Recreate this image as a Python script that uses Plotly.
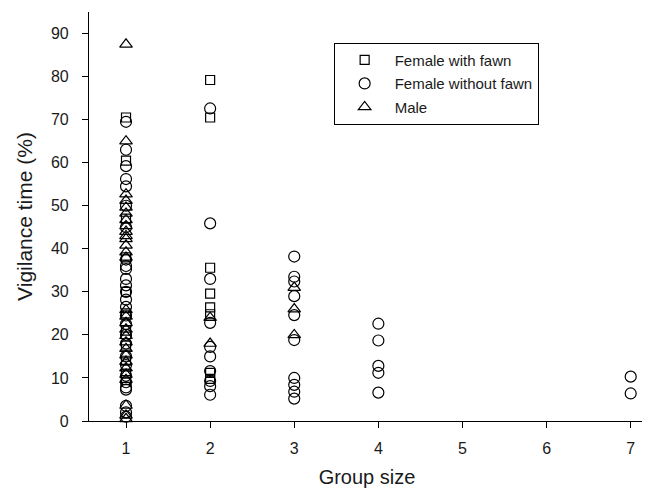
import plotly.graph_objects as go

# Female with fawn (squares)
fwf_x = [1]*11 + [2]*8
fwf_y = [70.5, 60.5, 47.0, 38.0, 30.0, 25.0, 21.0, 17.5, 14.0, 11.0, 9.5,
         79.2, 70.5, 35.6, 29.6, 26.4, 24.8, 11.2, 9.8]

# Female without fawn (circles)
fwo_x = [1]*28 + [2]*10 + [3]*10 + [4]*5 + [7]*2
fwo_y = [69.5, 63.0, 59.2, 56.2, 54.5, 50.0, 45.0, 37.5, 36.0, 35.3, 33.0, 31.5, 30.0, 28.2,
         26.5, 24.5, 22.5, 20.0, 18.0, 15.0, 13.0, 10.5, 9.0, 7.8, 7.3, 3.5, 2.0, 1.0,
         72.6, 45.9, 33.0, 22.8, 17.2, 15.0, 11.6, 9.3, 8.1, 6.1,
         38.2, 33.5, 32.4, 29.0, 24.6, 18.8, 10.0, 8.4, 6.8, 5.2,
         22.6, 18.7, 12.8, 11.2, 6.6,
         10.3, 6.4]

# Male (triangles)
male_x = [1]*29 + [2]*2 + [3]*3
male_y = [87.5, 65.0, 52.7, 51.2, 49.6, 48.2, 46.7, 45.3, 44.0, 43.0, 42.3, 40.8, 39.2, 38.0,
          25.8, 24.3, 22.8, 21.3, 19.8, 18.3, 16.8, 15.3, 13.8, 12.3, 10.8, 9.6, 3.6, 1.3, 0.5,
          24.0, 18.0,
          31.0, 26.0, 20.0]

x_ticks = [1, 2, 3, 4, 5, 6, 7]
y_ticks = [0, 10, 20, 30, 40, 50, 60, 70, 80, 90]

FONT = "Liberation Sans, Arial, Helvetica, sans-serif"
TXT = "#1a1a1a"

def mk(name, xs, ys, symbol, size):
    return go.Scatter(
        x=xs, y=ys, mode="markers", name=name, cliponaxis=False, legendgroup=name,
        marker=dict(symbol=symbol, size=size, color="black",
                    line=dict(color="black", width=1.2)),
    )

fig = go.Figure()
fig.add_trace(mk("Female with fawn", fwf_x, fwf_y, "square-open", 9))
fig.add_trace(mk("Female without fawn", fwo_x, fwo_y, "circle-open", 11))
fig.add_trace(mk("Male", male_x, male_y, "triangle-up-open", 11))

# page has an 8px body margin, so the figure is 642x484 placed at (8, 8)
fig.update_layout(
    width=642, height=484,
    margin=dict(l=81, r=5, t=4, b=71),
    paper_bgcolor="white", plot_bgcolor="white",
    font=dict(family=FONT, size=15, color=TXT),
    showlegend=True,
    legend=dict(
        x=0.44, y=0.925, xanchor="left", yanchor="top",
        bordercolor="black", borderwidth=1, bgcolor="white",
        font=dict(family=FONT, size=15, color=TXT),
        itemsizing="trace", itemwidth=50, tracegroupgap=1,
    ),
    xaxis=dict(
        range=[0.56, 7.17], tickvals=x_ticks, ticktext=[str(v) for v in x_ticks],
        showgrid=False, zeroline=False, showline=True, linecolor="black", linewidth=1.2,
        ticks="outside", ticklen=6, tickcolor="black", tickwidth=1.2, ticklabelstandoff=7,
        title=dict(text="Group size", font=dict(family=FONT, size=20, color=TXT), standoff=13),
        tickfont=dict(family=FONT, size=16, color=TXT),
    ),
    yaxis=dict(
        range=[0, 95], tickvals=y_ticks, ticktext=[str(v) for v in y_ticks],
        showgrid=False, zeroline=False, showline=True, linecolor="black", linewidth=1.2,
        ticks="outside", ticklen=6, tickcolor="black", tickwidth=1.2, ticklabelstandoff=10,
        title=dict(text="Vigilance time (%)", font=dict(family=FONT, size=21, color=TXT), standoff=12),
        tickfont=dict(family=FONT, size=16, color=TXT),
    ),
)

fig.write_html("out.html")
